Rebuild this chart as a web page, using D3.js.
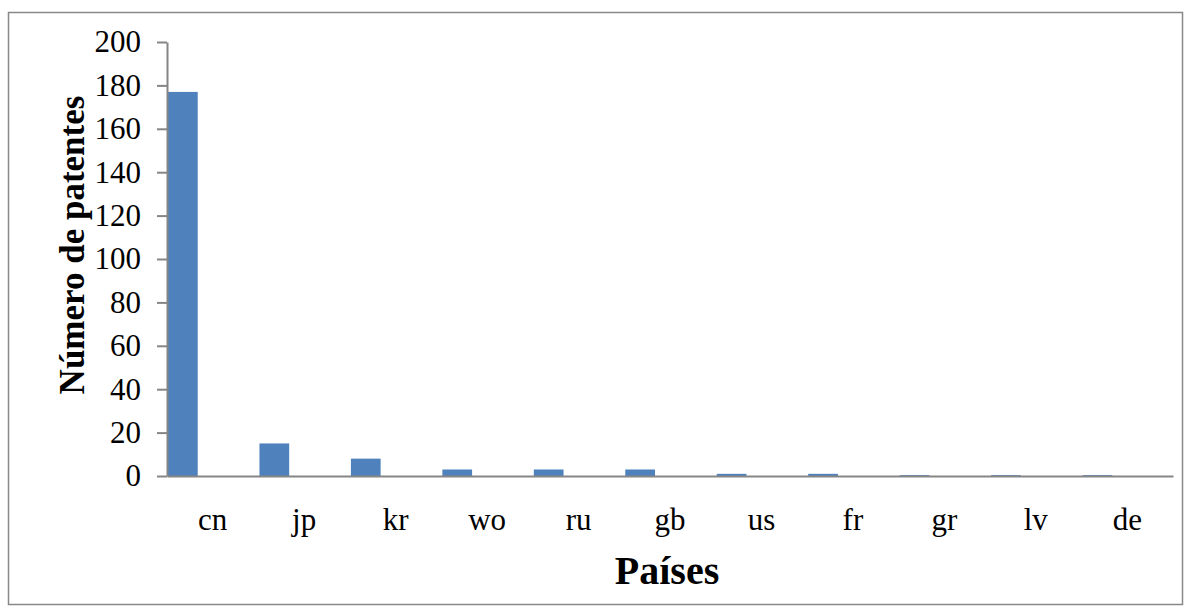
<!DOCTYPE html>
<html>
<head>
<meta charset="utf-8">
<script src="https://cdn.jsdelivr.net/npm/d3@7"></script>
<style>
  html, body { margin: 0; padding: 0; background: #fff; }
  svg { display: block; }
  text { font-family: "Liberation Serif", "Times New Roman", serif; fill: #000; }
</style>
</head>
<body>
<svg id="chart" width="1191" height="612"></svg>
<script>
// Patent counts by country
const countries = ["cn", "jp", "kr", "wo", "ru", "gb", "us", "fr", "gr", "lv", "de"];
const patents   = [177, 15, 8, 3, 3, 3, 1, 1, 0.4, 0.4, 0.4];
const yTicks    = [0, 20, 40, 60, 80, 100, 120, 140, 160, 180, 200];

const svg = d3.select("#chart");

// outer frame
svg.append("rect")
  .attr("x", 8.5).attr("y", 12.5)
  .attr("width", 1174).attr("height", 592)
  .attr("fill", "none").attr("stroke", "#888").attr("stroke-width", 1.5);

const plotL = 167, plotR = 1173, plotT = 42, plotB = 476;

const x = d3.scaleBand().domain(countries).range([plotL, plotR]).padding(0);
const y = d3.scaleLinear().domain([0, 200]).range([plotB, plotT]);

const barW = x.bandwidth() * 0.325;

// bars
svg.append("g").selectAll("rect")
  .data(countries)
  .join("rect")
  .attr("x", (d) => x(d) + 1)
  .attr("width", barW)
  .attr("y", (d, i) => y(patents[i]))
  .attr("height", (d, i) => y(0) - y(patents[i]))
  .attr("fill", "#4f81bd");

// y axis
const yAxis = svg.append("g")
  .attr("transform", `translate(${plotL},0)`)
  .call(d3.axisLeft(y).tickValues(yTicks).tickSize(10).tickPadding(16).tickSizeOuter(0));
yAxis.select(".domain").attr("stroke", "#868686").attr("stroke-width", 2);
yAxis.selectAll(".tick line").attr("stroke", "#868686").attr("stroke-width", 2);
yAxis.selectAll(".tick text")
  .style("font-family", "'Liberation Serif', 'Times New Roman', serif")
  .style("font-size", "31px").attr("fill", "#000");

// x axis
const xAxis = svg.append("g")
  .attr("transform", `translate(0,${plotB})`)
  .call(d3.axisBottom(x).tickSize(0).tickPadding(32).tickSizeOuter(0));
xAxis.select(".domain").attr("stroke", "#868686").attr("stroke-width", 2);
xAxis.selectAll(".tick text")
  .style("font-family", "'Liberation Serif', 'Times New Roman', serif")
  .style("font-size", "31px").attr("fill", "#000");

// axis titles
svg.append("text")
  .attr("x", 667).attr("y", 584)
  .attr("text-anchor", "middle")
  .style("font-size", "40px").style("font-weight", "bold")
  .text("Países");

svg.append("text")
  .attr("transform", `translate(84,245) rotate(-90)`)
  .attr("text-anchor", "middle")
  .style("font-size", "35px").style("font-weight", "bold")
  .text("Número de patentes");
</script>
</body>
</html>
